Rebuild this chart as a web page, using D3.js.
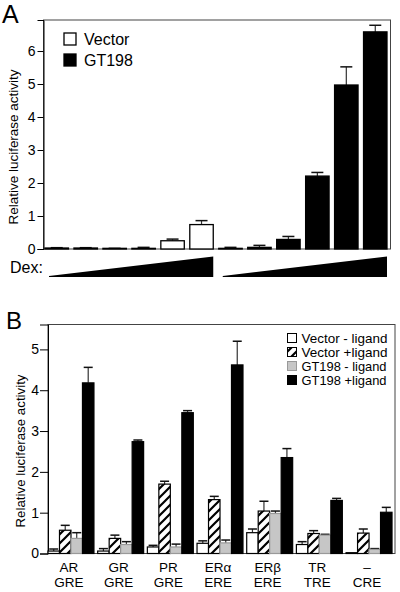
<!DOCTYPE html>
<html><head><meta charset="utf-8">
<script src="https://cdn.jsdelivr.net/npm/d3@7"></script>
<style>body{margin:0;background:#fff}svg{display:block}text{font-family:"Liberation Sans",Arial,Helvetica,sans-serif;fill:#000}</style>
</head><body><div id="chart"></div>
<script>
// ---------- Panel A data ----------
const seriesA = ["Vector", "GT198"];
const dexSteps = [1, 2, 3, 4, 5, 6];
const vectorMean = [0.03, 0.03, 0.02, 0.02, 0.25, 0.74];
const vectorErr  = [0.01, 0.01, 0.00, 0.03, 0.05, 0.12];
const gt198Mean  = [0.02, 0.05, 0.29, 2.21, 4.97, 6.58];
const gt198Err   = [0.03, 0.06, 0.09, 0.11, 0.55, 0.20];
const ticksA = [0, 1, 2, 3, 4, 5, 6];

// ---------- Panel B data ----------
const receptorLabels = ["AR", "GR", "PR", "ER\u03B1", "ER\u03B2", "TR", "\u2013"];
const elementLabels  = ["GRE", "GRE", "GRE", "ERE", "ERE", "TRE", "CRE"];
const seriesB = ["Vector - ligand", "Vector +ligand", "GT198 - ligand", "GT198 +ligand"];
const vecNoLig    = [0.06, 0.06, 0.16, 0.25, 0.51, 0.22, 0.02];
const vecNoLigErr = [0.05, 0.06, 0.04, 0.06, 0.09, 0.07, 0.00];
const vecLig      = [0.57, 0.37, 1.70, 1.32, 1.04, 0.49, 0.50];
const vecLigErr   = [0.12, 0.08, 0.07, 0.08, 0.24, 0.07, 0.10];
const gtNoLig     = [0.37, 0.22, 0.16, 0.26, 0.98, 0.45, 0.10];
const gtNoLigErr  = [0.14, 0.07, 0.07, 0.07, 0.06, 0.02, 0.02];
const gtLig       = [4.18, 2.74, 3.45, 4.62, 2.35, 1.30, 1.01];
const gtLigErr    = [0.38, 0.04, 0.05, 0.58, 0.22, 0.05, 0.12];
const ticksB = [0, 1, 2, 3, 4, 5];

const W = 400, H = 592;
const svg = d3.select("#chart").append("svg").attr("width", W).attr("height", H);
const defs = svg.append("defs");
const pat = defs.append("pattern").attr("id", "hatch").attr("patternUnits", "userSpaceOnUse")
  .attr("width", 9).attr("height", 9);
pat.append("rect").attr("width", 9).attr("height", 9).attr("fill", "#fff");
pat.append("path").attr("d", "M-2,2 L2,-2 M0,9 L9,0 M7,11 L11,7").attr("stroke", "#000").attr("stroke-width", 2.2);

const fills = ["#fff", "url(#hatch)", "#c6c6c6", "#000"];
const strokes = ["#000", "#000", "#999", "#000"];

// ================= Panel A =================
const A = {left: 43.5, right: 390.5, top: 20, bottom: 249};
const yA = d3.scaleLinear().domain([0, 6.94]).range([A.bottom, A.top]);
const stepsA = seriesA.flatMap(s => dexSteps.map(d => s + d));
const xA = d3.scaleBand().domain(stepsA).range([45, 387]).paddingInner(0.19).paddingOuter(0);

svg.append("text").attr("x", 2).attr("y", 23).attr("font-size", 25).text("A");

const gA = svg.append("g");
gA.append("rect").attr("x", A.left).attr("y", A.top).attr("width", A.right - A.left)
  .attr("height", A.bottom - A.top).attr("fill", "none").attr("stroke", "#444").attr("stroke-width", 1);
const axA = gA.append("g").attr("transform", `translate(${A.left},0)`)
  .call(d3.axisLeft(yA).tickValues(ticksA).tickSize(6).tickPadding(2).tickFormat(d3.format("d")));
axA.select(".domain").attr("stroke", "#000");
axA.selectAll("text").attr("font-size", 14).attr("font-family", "Liberation Sans, Arial, sans-serif");

const dataA = [];
dexSteps.forEach((d, i) => dataA.push({k: "Vector" + d, v: vectorMean[i], e: vectorErr[i], s: 0}));
dexSteps.forEach((d, i) => dataA.push({k: "GT198" + d, v: gt198Mean[i], e: gt198Err[i], s: 1}));

const errG = gA.append("g");
dataA.forEach(d => {
  const cx = xA(d.k) + xA.bandwidth() / 2;
  errG.append("line").attr("x1", cx).attr("x2", cx).attr("y1", yA(d.v)).attr("y2", yA(d.v + d.e))
    .attr("stroke", "#333").attr("stroke-width", 1.2);
  errG.append("line").attr("x1", cx - 6).attr("x2", cx + 6).attr("y1", yA(d.v + d.e)).attr("y2", yA(d.v + d.e))
    .attr("stroke", "#111").attr("stroke-width", 1.5);
});
gA.selectAll("rect.bar").data(dataA).join("rect").attr("class", "bar")
  .attr("x", d => xA(d.k)).attr("width", xA.bandwidth())
  .attr("y", d => yA(d.v)).attr("height", d => A.bottom - yA(d.v))
  .attr("fill", d => d.s ? "#000" : "#fff").attr("stroke", "#000").attr("stroke-width", 1.3);

// legend A
const legA = gA.append("g");
seriesA.forEach((s, i) => {
  legA.append("rect").attr("x", 64).attr("y", 33 + i * 21).attr("width", 12).attr("height", 12)
    .attr("fill", i ? "#000" : "#fff").attr("stroke", "#000").attr("stroke-width", 1.3);
  legA.append("text").attr("x", 84).attr("y", 44.5 + i * 21).attr("font-size", 16).text(s);
});

// Dex wedges
svg.append("text").attr("x", 10).attr("y", 273).attr("font-size", 16).text("Dex:");
const wedge = (k0, k1) => {
  const x0 = xA(k0) + 4, x1 = xA(k1) + xA.bandwidth();
  svg.append("path").attr("d", `M${x0},276 L${x1},256.5 L${x1},277 L${x0},277 Z`).attr("fill", "#000");
};
wedge("Vector1", "Vector6");
wedge("GT1981", "GT1986");

// y label A
svg.append("text").attr("transform", "translate(18,147) rotate(-90)").attr("text-anchor", "middle")
  .attr("font-size", 13.5).attr("textLength", 155).attr("lengthAdjust", "spacingAndGlyphs")
  .text("Relative luciferase activity");

// ================= Panel B =================
const B = {left: 48, right: 395, top: 324.5, bottom: 553.5};
const yB = d3.scaleLinear().domain([0, 5.61]).range([B.bottom, B.top]);
const x0B = d3.scaleBand().domain(d3.range(receptorLabels.length)).range([B.left, B.right])
  .paddingInner(0.075).paddingOuter(0.03).align(0);
const x1B = d3.scaleBand().domain(d3.range(4)).range([0, x0B.bandwidth()]).padding(0);

svg.append("text").attr("x", 6).attr("y", 329).attr("font-size", 24).text("B");

const gB = svg.append("g");
gB.append("rect").attr("x", B.left).attr("y", B.top).attr("width", B.right - B.left)
  .attr("height", B.bottom - B.top).attr("fill", "none").attr("stroke", "#444").attr("stroke-width", 1);
const axB = gB.append("g").attr("transform", `translate(${B.left},0)`)
  .call(d3.axisLeft(yB).tickValues(ticksB).tickSize(8).tickPadding(1).tickFormat(d3.format("d")));
axB.select(".domain").attr("stroke", "#000");
axB.selectAll("text").attr("font-size", 14).attr("font-family", "Liberation Sans, Arial, sans-serif");

const valsB = [vecNoLig, vecLig, gtNoLig, gtLig];
const errsB = [vecNoLigErr, vecLigErr, gtNoLigErr, gtLigErr];
const dataB = [];
receptorLabels.forEach((r, gi) => valsB.forEach((arr, si) =>
  dataB.push({g: gi, s: si, v: arr[gi], e: errsB[si][gi]})));

const errB = gB.append("g");
dataB.forEach(d => {
  if (d.e <= 0) return;
  const cx = x0B(d.g) + x1B(d.s) + x1B.bandwidth() / 2;
  errB.append("line").attr("x1", cx).attr("x2", cx).attr("y1", yB(d.v)).attr("y2", yB(d.v + d.e))
    .attr("stroke", "#333").attr("stroke-width", 1.2);
  errB.append("line").attr("x1", cx - 4.5).attr("x2", cx + 4.5).attr("y1", yB(d.v + d.e)).attr("y2", yB(d.v + d.e))
    .attr("stroke", "#111").attr("stroke-width", 1.5);
});
gB.selectAll("rect.bar").data(dataB).join("rect").attr("class", "bar")
  .attr("x", d => x0B(d.g) + x1B(d.s)).attr("width", x1B.bandwidth())
  .attr("y", d => yB(d.v)).attr("height", d => B.bottom - yB(d.v))
  .attr("fill", d => fills[d.s]).attr("stroke", d => strokes[d.s]).attr("stroke-width", 1.2);

// x labels B
receptorLabels.forEach((r, i) => {
  const cx = x0B(i) + x0B.bandwidth() / 2 - 2;
  svg.append("text").attr("x", cx).attr("y", 572).attr("text-anchor", "middle").attr("font-size", 13.5).text(r);
  svg.append("text").attr("x", cx).attr("y", 587).attr("text-anchor", "middle").attr("font-size", 13.5).text(elementLabels[i]);
});

// legend B
seriesB.forEach((s, i) => {
  svg.append("rect").attr("x", 287.5).attr("y", 333.5 + i * 14).attr("width", 9).attr("height", 9)
    .attr("fill", fills[i]).attr("stroke", strokes[i] === "#999" ? "#999" : "#000").attr("stroke-width", 1);
  svg.append("text").attr("x", 301.5).attr("y", 342.5 + i * 14).attr("font-size", 13.5)
    .attr("textLength", i < 2 ? 86 : 85).attr("lengthAdjust", "spacingAndGlyphs").text(s);
});

// y label B
svg.append("text").attr("transform", "translate(25,451) rotate(-90)").attr("text-anchor", "middle")
  .attr("font-size", 13.5).attr("textLength", 153).attr("lengthAdjust", "spacingAndGlyphs")
  .text("Relative luciferase activity");
</script></body></html>
